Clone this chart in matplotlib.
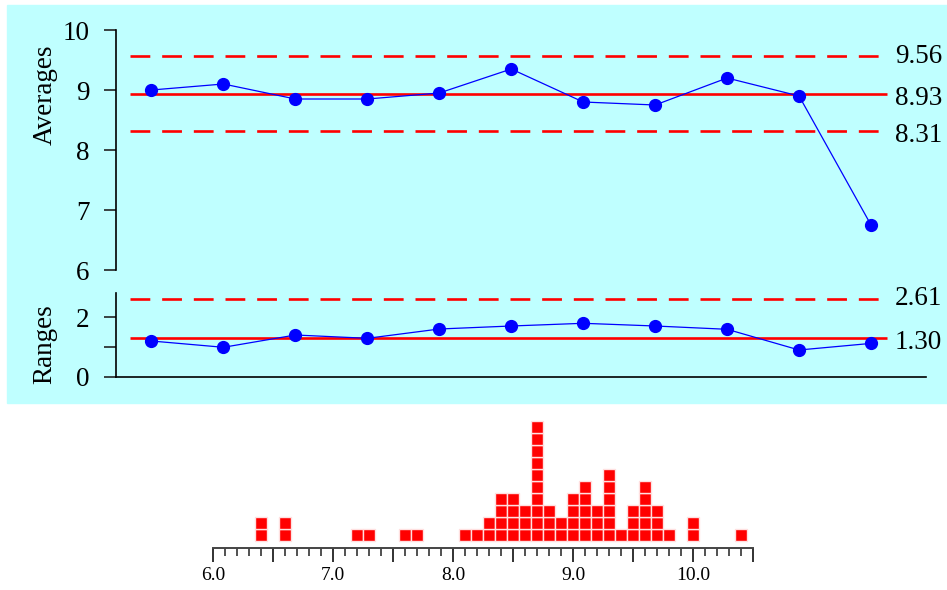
import matplotlib
matplotlib.use("Agg")
import matplotlib.pyplot as plt
from matplotlib.patches import Rectangle
import numpy as np

plt.rcParams["font.family"] = ["Liberation Serif", "DejaVu Serif"]

# subgroup averages and ranges
averages = [9.00, 9.10, 8.85, 8.85, 8.95, 9.35, 8.80, 8.75, 9.20, 8.90, 6.75]
ranges = [1.20, 0.99, 1.40, 1.29, 1.60, 1.70, 1.79, 1.70, 1.59, 0.90, 1.12]
avg_limits = [9.56, 8.93, 8.31]     # UCL, centre, LCL
rng_limits = [2.61, 1.30]           # UCL, centre

# dot histogram of individual values
hist_values = [6.4, 6.6, 7.2, 7.3, 7.6, 7.7, 8.1, 8.2, 8.3, 8.4, 8.5, 8.6, 8.7,
               8.8, 8.9, 9.0, 9.1, 9.2, 9.3, 9.4, 9.5, 9.6, 9.7, 9.8, 10.0, 10.4]
hist_counts = [2, 2, 1, 1, 1, 1, 1, 1, 2, 4, 4, 3, 10,
               3, 2, 4, 5, 3, 6, 1, 3, 5, 3, 1, 2, 1]
hist_labels = ["6.0", "7.0", "8.0", "9.0", "10.0"]

W, H = 947, 590
fig = plt.figure(figsize=(W / 100, H / 100), dpi=100)
bg = Rectangle((7 / W, 1 - 403 / H), 940 / W, 398 / H,
               transform=fig.transFigure, color="#bfffff", zorder=-10)
fig.add_artist(bg)

def px_axes(x0, y0, x1, y1):
    return fig.add_axes([x0 / W, 1 - y1 / H, (x1 - x0) / W, (y1 - y0) / H])

RED = "#ff0000"
BLUE = "#0000ff"
xs = np.arange(1, len(averages) + 1)
xl = (0.5, 11.764)
line_x = (0.708, 11.222)

def style(ax):
    ax.patch.set_visible(False)
    for s in ["top", "right"]:
        ax.spines[s].set_visible(False)
    ax.spines["left"].set_linewidth(1.2)
    ax.spines["bottom"].set_linewidth(1.2)
    ax.tick_params(axis="y", length=8.5, width=1.2, labelsize=19.5, pad=10, color="#222222")

# averages panel
ax1 = px_axes(115.5, 30, 926, 270)
style(ax1)
ax1.spines["bottom"].set_visible(False)
ax1.set_xlim(*xl)
ax1.set_ylim(6, 10)
ax1.set_xticks([])
ax1.set_yticks([6, 7, 8, 9, 10])
ax1.hlines(avg_limits[1], *line_x, color=RED, lw=1.9, zorder=2)
for v in (avg_limits[0], avg_limits[2]):
    ax1.hlines(v, *line_x, color=RED, lw=1.9, linestyles=(0, (7.5, 4.5)), zorder=2)
ax1.plot(xs, averages, color=BLUE, lw=0.9, marker="o", ms=8.5, zorder=3, clip_on=False)
for v, dy in zip(avg_limits, (0, 3, 3)):
    ax1.annotate(f"{v:.2f}", (xl[1], v), xycoords="data", xytext=(-22.5, -dy),
                 textcoords="offset points", fontsize=19.5, va="center", ha="left",
                 annotation_clip=False)
ax1.text(45 / W, 1 - 95 / H, "Averages", transform=fig.transFigure, rotation=90,
         fontsize=19.5, ha="center", va="center")

# ranges panel
ax2 = px_axes(115.5, 293, 926, 377)
style(ax2)
ax2.set_xlim(*xl)
ax2.set_ylim(0, 2.8)
ax2.set_xticks([])
ax2.set_yticks([0, 1, 2])
ax2.set_yticklabels(["0", "", "2"])
ax2.hlines(rng_limits[1], *line_x, color=RED, lw=1.9, zorder=2)
ax2.hlines(rng_limits[0], *line_x, color=RED, lw=1.9, linestyles=(0, (7.5, 4.5)), zorder=2)
ax2.plot(xs, ranges, color=BLUE, lw=0.9, marker="o", ms=8.5, zorder=3, clip_on=False)
for v, dy in zip(rng_limits, (0, 3)):
    ax2.annotate(f"{v:.2f}", (xl[1], v), xycoords="data", xytext=(-22.5, -dy),
                 textcoords="offset points", fontsize=19.5, va="center", ha="left",
                 annotation_clip=False)
ax2.text(45 / W, 1 - 344 / H, "Ranges", transform=fig.transFigure, rotation=90,
         fontsize=19.5, ha="center", va="center")

# dot histogram
ax3 = px_axes(213, 410, 753, 548)
ax3.set_xlim(6.0, 10.5)
ax3.set_ylim(-0.583, 10.917)
for s in ["top", "right", "left"]:
    ax3.spines[s].set_visible(False)
ax3.spines["bottom"].set_linewidth(1.4)
ax3.spines["bottom"].set_color("#444444")
ax3.set_yticks([])
for v, c in zip(hist_values, hist_counts):
    ax3.bar([v] * c, [1] * c, bottom=np.arange(c), width=0.1, color=RED,
            edgecolor="#ffe0e0", linewidth=1.0)
ax3.set_xticks(np.arange(6.0, 10.51, 0.5))
ax3.set_xticklabels([hist_labels[i // 2] if i % 2 == 0 else "" for i in range(10)])
ax3.set_xticks(np.arange(6.0, 10.51, 0.1), minor=True)
ax3.tick_params(axis="x", which="major", length=10, width=1.3, labelsize=14, pad=4, color="#222222")
ax3.tick_params(axis="x", which="minor", length=5.5, width=1.1, color="#222222")

fig.savefig("out.png", dpi=100)
